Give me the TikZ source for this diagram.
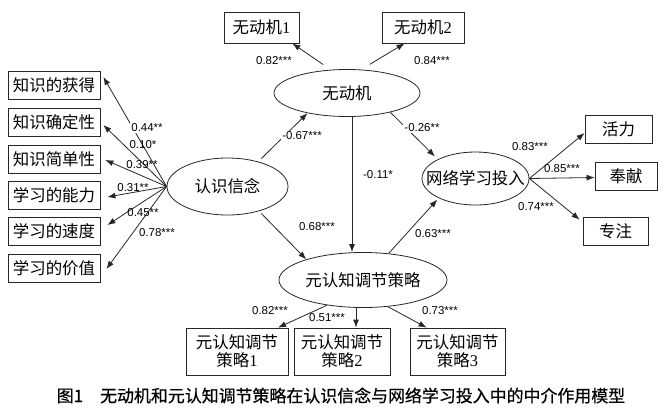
\documentclass[tikz,border=0pt]{standalone}
\usepackage{fontspec}
\setmainfont{Liberation Serif}
\newfontfamily\cjk{Noto Sans CJK SC}
\newfontfamily\cjkcap[FakeBold=0.6]{Noto Sans CJK SC}
\newfontfamily\lab{Liberation Sans}
\usetikzlibrary{arrows.meta,shapes.geometric,calc}
\begin{document}
\begin{tikzpicture}[x=1bp,y=-1bp,
  box/.style={draw=black!85, line width=0.8bp, inner sep=0pt, align=center, font=\cjk\fontsize{16.5}{18.5}\selectfont},
  ell/.style={draw=black!85, line width=0.8bp, ellipse, inner sep=0pt, font=\cjk\fontsize{16.5}{19}\selectfont},
  arr/.style={draw=black!85, line width=0.8bp, -{Latex[length=8bp,width=6bp]}},
  lbl/.style={font=\lab\fontsize{11.5}{13}\selectfont, inner sep=1pt},
  wl/.style={lbl, fill=white}]
\useasboundingbox (0,0) rectangle (667,417);

% left boxes
\node[box, minimum width=92bp, minimum height=28bp] (l1) at (54,85) {知识的获得};
\node[box, minimum width=92bp, minimum height=28bp] (l2) at (54,122) {知识确定性};
\node[box, minimum width=92bp, minimum height=28bp] (l3) at (54,159) {知识简单性};
\node[box, minimum width=92bp, minimum height=28bp] (l4) at (54,195) {学习的能力};
\node[box, minimum width=92bp, minimum height=28bp] (l5) at (54,231) {学习的速度};
\node[box, minimum width=92bp, minimum height=28bp] (l6) at (54,268) {学习的价值};

% top boxes
\node[box, minimum width=75bp, minimum height=31bp] (m1) at (261.5,27.5) {无动机{\rmfamily 1}};
\node[box, minimum width=82bp, minimum height=31bp] (m2) at (423,27.5) {无动机{\rmfamily 2}};

% ellipses
\node[ell, minimum width=121bp, minimum height=57bp] (rx) at (227.5,186.5) {\makebox[0pt]{认识信念}};
\node[ell, minimum width=146bp, minimum height=47bp] (m) at (347,93) {\makebox[0pt]{无动机}};
\node[ell, minimum width=107bp, minimum height=53bp] (w) at (475.5,178.5) {\makebox[0pt]{网络学习投入}};
\node[ell, minimum width=168bp, minimum height=55bp] (e) at (363,280) {\makebox[0pt]{元认知调节策略}};

% bottom boxes
\node[box, minimum width=102bp, minimum height=47bp] (b1) at (237,351.5) {元认知调节\\策略{\rmfamily 1}};
\node[box, minimum width=96bp, minimum height=47bp] (b2) at (342,351.5) {元认知调节\\策略{\rmfamily 2}};
\node[box, minimum width=95bp, minimum height=47bp] (b3) at (457.5,351.5) {元认知调节\\策略{\rmfamily 3}};

% right boxes
\node[box, minimum width=67bp, minimum height=28bp] (r1) at (618.5,129) {活力};
\node[box, minimum width=62bp, minimum height=28bp] (r2) at (626,176) {奉献};
\node[box, minimum width=65bp, minimum height=28bp] (r3) at (615.5,231) {专注};

% left fan
\draw[arr] (rx.west) -- ([xshift=3bp,yshift=8bp]l1.east);
\draw[arr] (rx.west) -- ([xshift=3bp,yshift=-3bp]l2.east);
\draw[arr] (rx.west) -- ([xshift=5bp,yshift=-1bp]l3.east);
\draw[arr] (rx.west) -- ([xshift=7bp,yshift=-2bp]l4.east);
\draw[arr] (rx.west) -- ([xshift=7bp,yshift=6bp]l5.east);
\draw[arr] (rx.west) -- ([xshift=6bp,yshift=-1bp]l6.east);

% top
\draw[arr, shorten <=9bp] (m.125) -- ([xshift=-7bp]m1.south east);
\draw[arr, shorten <=10bp] (m.59) -- ([xshift=23bp]m2.south west);

% structural paths
\draw[arr, shorten <=4bp] (rx.39) -- (m.207);
\draw[arr, shorten >=4bp] (m.336) -- (w.153);
\draw[arr] ([xshift=5bp]m.south) -- ([xshift=5bp]m.south |- e.north);
\draw[arr, shorten <=3bp] (rx.322) -- (e.160);
\draw[arr, shorten >=2bp] (e.46) -- (w.208);

% right fan
\draw[arr] (w.east) -- ([yshift=-4bp]r1.west);
\draw[arr] (w.east) -- ([yshift=-1.5bp]r2.west);
\draw[arr] (w.east) -- ([xshift=-3bp,yshift=-3bp]r3.north west);

% bottom
\draw[arr] (e.215) -- ([xshift=41bp]b1.north);
\draw[arr] ([xshift=14bp]b2.north |- e.south) -- ([xshift=14bp]b2.north);
\draw[arr] (e.313) -- ([xshift=17bp]b3.north west);

% labels
\node[wl] (t1) at (147,128) {0.44**};
\node[lbl] (t2) at (143,145) {0.10*};
\node[lbl] (t3) at (142,165) {0.39**};
\node[lbl] (t4) at (133,188) {0.31**};
\node[lbl] (t5) at (143,213) {0.45**};
\node[lbl] (t6) at (157,233) {0.78***};
\node[lbl] (t7) at (274,61) {0.82***};
\node[lbl] (t8) at (432,61) {0.84***};
\node[wl] (t9) at (302,136) {-0.67***};
\node[wl] (t10) at (422,128) {-0.26**};
\node[lbl] (t11) at (378,175) {-0.11*};
\node[lbl] (t12) at (317,227) {0.68***};
\node[lbl] (t13) at (433,234) {0.63***};
\node[lbl] (t14) at (530,147) {0.83***};
\node[lbl] (t15) at (562,169) {0.85***};
\node[lbl] (t16) at (536,207) {0.74***};
\node[lbl] (t17) at (270,311) {0.82***};
\node[lbl] (t18) at (327,318) {0.51***};
\node[lbl] (t19) at (440,311) {0.73***};

% caption
\node[font=\cjkcap\fontsize{17}{20}\selectfont, inner sep=0pt] (cap) at (341,395.5) {图1\hspace{17bp}无动机和元认知调节策略在认识信念与网络学习投入中的中介作用模型};
\end{tikzpicture}
\end{document}
